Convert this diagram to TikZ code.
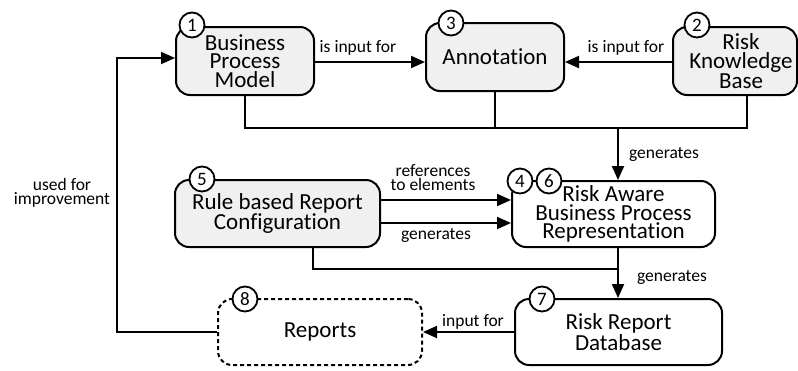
\documentclass[tikz,border=0pt]{standalone}
\usepackage{fontspec}
\setmainfont{Carlito}[Ligatures=NoCommon]
\usetikzlibrary{arrows.meta}
\definecolor{boxgrey}{HTML}{F0F0F0}
\tikzset{
  box/.style={draw, line width=2pt, rounded corners=14pt, align=center,
    font=\fontsize{23}{18.5}\selectfont, inner sep=0pt},
  grey/.style={fill=boxgrey},
  boxtext/.style={align=center, font=\fontsize{23}{18.5}\selectfont, inner sep=0pt},
  num/.style={circle, draw, line width=1.8pt, fill=white, minimum size=25pt,
    inner sep=0pt, font=\fontsize{19}{19}\selectfont},
  lbl/.style={font=\fontsize{17.5}{14}\selectfont, align=center, inner sep=0pt},
  conn/.style={line width=2pt},
  arr/.style={conn, -{Triangle[length=14pt,width=12pt]}},
}
\begin{document}
\begin{tikzpicture}[x=1pt,y=-1pt]
\useasboundingbox (0,0) rectangle (798,370);

% boxes
\node[box,grey,minimum width=138pt,minimum height=68pt] (b1) at (245,61) {Business\\Process\\Model};
\node[box,grey,minimum width=138pt,minimum height=68pt] (b3) at (495,57) {Annotation};
\node[box,grey,minimum width=124pt,minimum height=68pt] (b2) at (735,61) {};
\node[boxtext] (b2t) at (741,61) {Risk\\Knowledge\\Base};
\node[box,grey,minimum width=205pt,minimum height=67pt] (b5) at (277.5,213.5) {Rule based Report\\Configuration};
\node[box,fill=white,minimum width=203pt,minimum height=66pt] (b6) at (613.5,214) {Risk Aware\\Business Process\\Representation};
\node[box,fill=white,minimum width=207pt,minimum height=66pt] (b7) at (618.5,332) {Risk Report\\Database};
\node[box,fill=white,dash pattern=on 4pt off 3pt,minimum width=204pt,minimum height=66pt] (b8) at (320,332) {Reports};

% connectors
\coordinate (bus1) at (618,128);
\coordinate (bus2) at (618,269);
\coordinate (fb) at (117,332);

\draw[arr] ([yshift=-1pt]b1.east) -- ([yshift=-1pt]b1.east -| b3.west);
\draw[arr] ([yshift=-1pt]b2.west) -- ([yshift=-1pt]b2.west -| b3.east);
\draw[conn] (b1.south) |- ([xshift=12pt]b2.south |- bus1) -- ([xshift=12pt]b2.south);
\draw[conn] (b3.south) -- (b3.south |- bus1);
\draw[arr] (bus1) -- (bus1 |- b6.north);

\draw[arr] ([yshift=13.5pt]b5.east) -- ([yshift=13.5pt]b5.east -| b6.west);
\draw[arr] ([yshift=-9.5pt]b5.east) -- ([yshift=-9.5pt]b5.east -| b6.west);

\draw[conn] ([xshift=35.5pt]b5.south) |- (bus2);
\draw[conn] (bus2 |- b6.south) -- (bus2);
\draw[arr] (bus2) -- (bus2 |- b7.north);

\draw[arr] (b7.west) -- (b8.east);
\draw[arr] (b8.west) -- (fb) |- ([yshift=3pt]b1.west);

% number circles
\node[num] (n1) at (192,25) {1};
\node[num] (n3) at (451,23) {3};
\node[num] (n2) at (697,25) {2};
\node[num] (n5) at (202,179) {5};
\node[num] (n4) at (520,181) {4};
\node[num] (n6) at (549,181) {6};
\node[num] (n7) at (542,299) {7};
\node[num] (n8) at (245,299) {8};

% labels
\node[lbl] (l1) at (358,48) {is input for};
\node[lbl] (l2) at (626,48) {is input for};
\node[lbl] (l3) at (664,154) {generates};
\node[lbl] (l4) at (433,178) {references\\to elements};
\node[lbl] (l5) at (436,235) {generates};
\node[lbl] (l6) at (672,277) {generates};
\node[lbl] (l7) at (473,322) {input for};
\node[lbl] (l8) at (62,193) {used for\\improvement};
\end{tikzpicture}
\end{document}
